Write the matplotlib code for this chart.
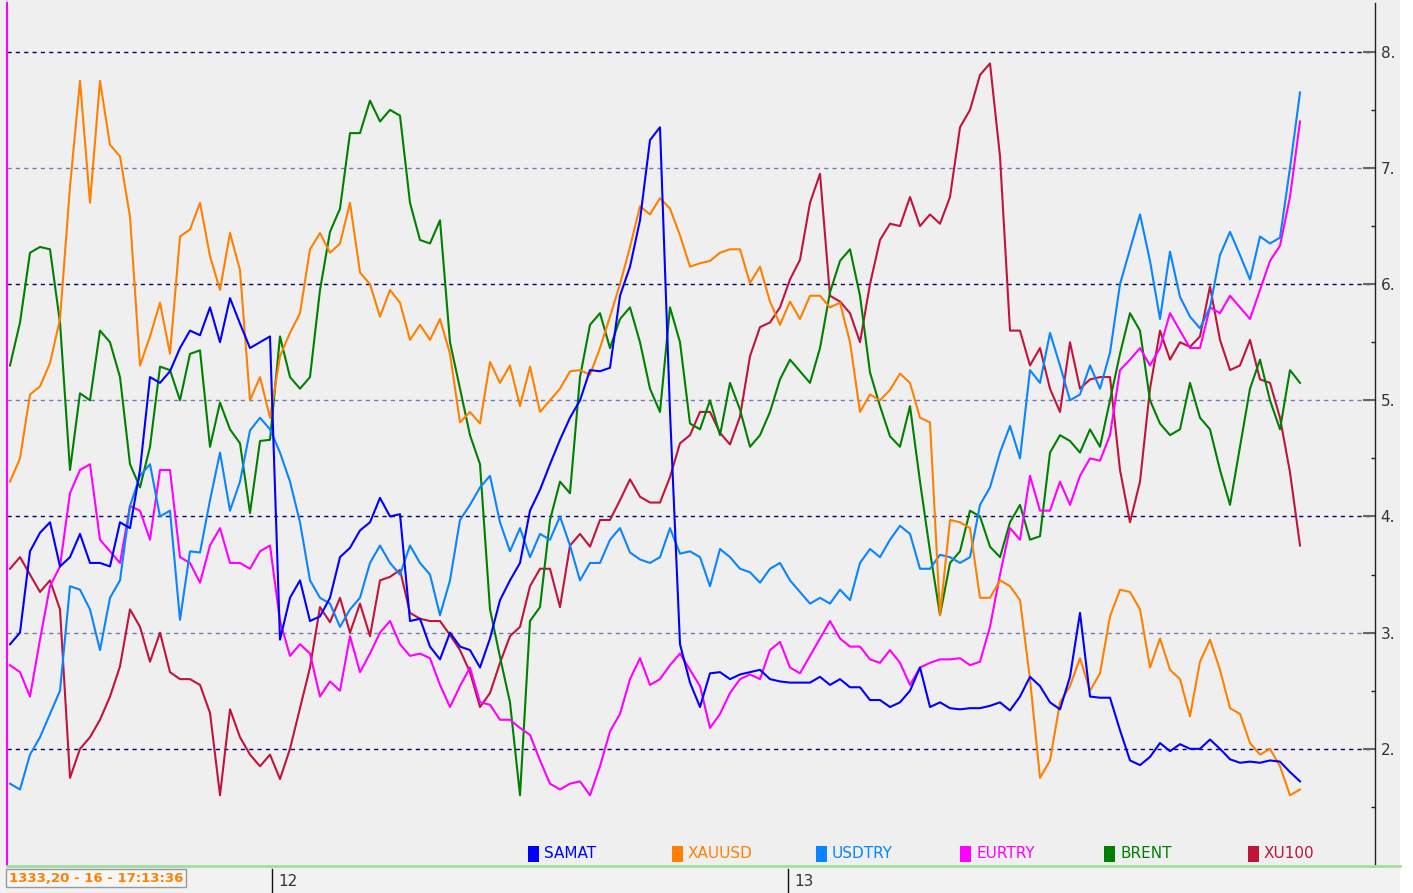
import numpy as np
import matplotlib
matplotlib.use('Agg')
import matplotlib.pyplot as plt
from matplotlib.patches import Rectangle
from matplotlib.transforms import blended_transform_factory

# %%
# series values, one sample per bar step
samat = [2.9, 3.0, 3.7, 3.86, 3.95, 3.57, 3.65, 3.85, 3.6, 3.6,
         3.57, 3.95, 3.9, 4.4, 5.2, 5.15, 5.25, 5.45, 5.6, 5.56,
         5.8, 5.5, 5.88, 5.66, 5.45, 5.5, 5.55, 2.94, 3.3, 3.45,
         3.1, 3.14, 3.3, 3.65, 3.73, 3.88, 3.95, 4.16, 4.0, 4.02,
         3.1, 3.12, 2.88, 2.77, 3.0, 2.88, 2.85, 2.7, 2.95, 3.28,
         3.45, 3.6, 4.05, 4.23, 4.45, 4.66, 4.85, 5.0, 5.26, 5.25,
         5.28, 5.9, 6.15, 6.55, 7.24, 7.35, 4.9, 2.9, 2.57, 2.36,
         2.65, 2.66, 2.6, 2.64, 2.66, 2.68, 2.6, 2.58, 2.57, 2.57,
         2.57, 2.62, 2.55, 2.6, 2.53, 2.53, 2.42, 2.42, 2.36, 2.4,
         2.5, 2.7, 2.36, 2.4, 2.35, 2.34, 2.35, 2.35, 2.37, 2.4,
         2.33, 2.45, 2.62, 2.54, 2.4, 2.34, 2.62, 3.17, 2.45, 2.44,
         2.44, 2.16, 1.9, 1.86, 1.93, 2.05, 1.98, 2.04, 2.0, 2.0,
         2.08, 2.0, 1.91, 1.88, 1.89, 1.88, 1.9, 1.89, 1.8, 1.72]

xauusd = [4.3, 4.5, 5.05, 5.12, 5.32, 5.7, 6.84, 7.75, 6.7, 7.75,
          7.2, 7.1, 6.58, 5.3, 5.55, 5.84, 5.4, 6.41, 6.47, 6.7,
          6.24, 5.95, 6.44, 6.12, 5.0, 5.2, 4.85, 5.38, 5.58, 5.75,
          6.3, 6.44, 6.27, 6.35, 6.7, 6.1, 6.0, 5.72, 5.95, 5.84,
          5.52, 5.65, 5.52, 5.7, 5.4, 4.81, 4.9, 4.8, 5.33, 5.15,
          5.3, 4.95, 5.29, 4.9, 5.0, 5.1, 5.25, 5.26, 5.22, 5.45,
          5.72, 6.0, 6.32, 6.67, 6.6, 6.74, 6.65, 6.42, 6.15, 6.18,
          6.2, 6.27, 6.3, 6.3, 6.01, 6.15, 5.85, 5.65, 5.85, 5.7,
          5.9, 5.9, 5.8, 5.84, 5.5, 4.9, 5.05, 5.0, 5.09, 5.23,
          5.15, 4.85, 4.81, 3.15, 3.97, 3.95, 3.9, 3.3, 3.3, 3.45,
          3.4, 3.28, 2.6, 1.75, 1.9, 2.4, 2.54, 2.78, 2.5, 2.65,
          3.14, 3.37, 3.35, 3.2, 2.7, 2.95, 2.68, 2.6, 2.28, 2.75,
          2.94, 2.68, 2.35, 2.3, 2.05, 1.95, 2.0, 1.85, 1.6, 1.65]

usdtry = [1.7, 1.65, 1.95, 2.1, 2.3, 2.5, 3.4, 3.37, 3.2, 2.85,
          3.3, 3.45, 4.09, 4.35, 4.45, 4.0, 4.05, 3.11, 3.7, 3.69,
          4.14, 4.55, 4.05, 4.3, 4.74, 4.85, 4.75, 4.55, 4.3, 3.95,
          3.45, 3.3, 3.25, 3.05, 3.2, 3.3, 3.6, 3.75, 3.6, 3.5,
          3.75, 3.6, 3.5, 3.15, 3.45, 3.97, 4.1, 4.25, 4.35, 3.95,
          3.7, 3.9, 3.65, 3.85, 3.8, 4.0, 3.75, 3.45, 3.6, 3.6,
          3.8, 3.9, 3.69, 3.63, 3.6, 3.65, 3.9, 3.68, 3.7, 3.65,
          3.4, 3.72, 3.65, 3.55, 3.52, 3.43, 3.55, 3.6, 3.45, 3.35,
          3.25, 3.3, 3.25, 3.37, 3.28, 3.6, 3.72, 3.65, 3.8, 3.92,
          3.85, 3.55, 3.55, 3.67, 3.65, 3.6, 3.65, 4.1, 4.25, 4.55,
          4.78, 4.5, 5.26, 5.15, 5.58, 5.3, 5.0, 5.05, 5.3, 5.1,
          5.41, 6.0, 6.3, 6.6, 6.2, 5.7, 6.28, 5.89, 5.72, 5.62,
          5.8, 6.25, 6.45, 6.25, 6.04, 6.41, 6.35, 6.4, 7.0, 7.65]

eurtry = [2.72, 2.66, 2.45, 2.94, 3.4, 3.57, 4.2, 4.4, 4.45, 3.8,
          3.7, 3.6, 4.09, 4.05, 3.8, 4.4, 4.4, 3.65, 3.6, 3.43,
          3.75, 3.9, 3.6, 3.6, 3.55, 3.7, 3.75, 3.1, 2.8, 2.9,
          2.82, 2.45, 2.58, 2.5, 2.97, 2.66, 2.82, 3.0, 3.1, 2.9,
          2.8, 2.82, 2.78, 2.55, 2.36, 2.54, 2.7, 2.4, 2.38, 2.25,
          2.25, 2.18, 2.12, 1.9, 1.7, 1.65, 1.7, 1.72, 1.6, 1.85,
          2.15, 2.3, 2.6, 2.78, 2.55, 2.6, 2.72, 2.82, 2.68, 2.54,
          2.18, 2.3, 2.48, 2.6, 2.64, 2.6, 2.85, 2.92, 2.7, 2.65,
          2.8, 2.95, 3.1, 2.95, 2.88, 2.88, 2.77, 2.74, 2.85, 2.74,
          2.55, 2.7, 2.74, 2.77, 2.77, 2.78, 2.72, 2.75, 3.05, 3.5,
          3.9, 3.8, 4.35, 4.05, 4.05, 4.3, 4.1, 4.35, 4.5, 4.48,
          4.7, 5.26, 5.35, 5.45, 5.3, 5.45, 5.75, 5.6, 5.45, 5.45,
          5.8, 5.75, 5.9, 5.8, 5.7, 5.95, 6.2, 6.33, 6.75, 7.4]

brent = [5.3, 5.67, 6.27, 6.32, 6.3, 5.67, 4.4, 5.06, 5.0, 5.6,
         5.5, 5.2, 4.45, 4.25, 4.6, 5.29, 5.26, 5.0, 5.4, 5.43,
         4.6, 4.98, 4.75, 4.63, 4.03, 4.65, 4.66, 5.55, 5.2, 5.1,
         5.2, 5.95, 6.45, 6.65, 7.3, 7.3, 7.58, 7.4, 7.5, 7.45,
         6.7, 6.38, 6.35, 6.55, 5.5, 5.1, 4.7, 4.45, 3.2, 2.79,
         2.4, 1.6, 3.1, 3.22, 3.97, 4.3, 4.2, 5.2, 5.65, 5.75,
         5.45, 5.7, 5.8, 5.5, 5.1, 4.9, 5.8, 5.5, 4.8, 4.75,
         5.0, 4.7, 5.15, 4.92, 4.6, 4.7, 4.9, 5.18, 5.35, 5.25,
         5.15, 5.45, 5.93, 6.2, 6.3, 5.9, 5.24, 4.95, 4.69, 4.6,
         4.95, 4.3, 3.7, 3.15, 3.6, 3.7, 4.05, 4.0, 3.74, 3.65,
         3.95, 4.1, 3.8, 3.83, 4.55, 4.7, 4.65, 4.55, 4.75, 4.6,
         5.0, 5.4, 5.75, 5.6, 5.0, 4.8, 4.7, 4.75, 5.15, 4.85,
         4.75, 4.4, 4.1, 4.6, 5.1, 5.35, 5.0, 4.75, 5.26, 5.15]

xu100 = [3.55, 3.65, 3.5, 3.35, 3.45, 3.2, 1.75, 2.0, 2.1, 2.25,
         2.45, 2.71, 3.2, 3.05, 2.75, 3.0, 2.66, 2.6, 2.6, 2.55,
         2.31, 1.6, 2.34, 2.1, 1.95, 1.85, 1.95, 1.74, 2.0, 2.35,
         2.7, 3.22, 3.09, 3.3, 3.0, 3.25, 2.97, 3.45, 3.48, 3.54,
         3.17, 3.12, 3.1, 3.1, 2.98, 2.85, 2.66, 2.36, 2.48, 2.74,
         2.97, 3.05, 3.4, 3.55, 3.55, 3.22, 3.75, 3.85, 3.74, 3.97,
         3.97, 4.14, 4.32, 4.17, 4.12, 4.12, 4.34, 4.63, 4.7, 4.9,
         4.9, 4.72, 4.62, 4.86, 5.38, 5.63, 5.67, 5.8, 6.04, 6.21,
         6.7, 6.95, 5.9, 5.85, 5.75, 5.5, 6.0, 6.38, 6.52, 6.5,
         6.75, 6.5, 6.6, 6.52, 6.75, 7.35, 7.5, 7.8, 7.9, 7.1,
         5.6, 5.6, 5.3, 5.45, 5.1, 4.9, 5.5, 5.1, 5.18, 5.2,
         5.2, 4.4, 3.95, 4.3, 5.1, 5.6, 5.35, 5.5, 5.46, 5.55,
         5.98, 5.52, 5.26, 5.3, 5.52, 5.18, 5.15, 4.85, 4.38, 3.75]

names = ['SAMAT', 'XAUUSD', 'USDTRY', 'EURTRY', 'BRENT', 'XU100']
colors = ['#0000FF', '#FF8000', '#0A84FF', '#FF00FF', '#008000', '#C0143C']
series = [samat, xauusd, usdtry, eurtry, brent, xu100]

y_ticks = [2, 3, 4, 5, 6, 7, 8]
day_pos = [26.2, 77.8]
day_labels = ['12', '13']
status_text = '1333,20 - 16 - 17:13:36'

# %%
W, H = 1413, 893


def fx(px):
    return px / W


def fy(py):
    return 1 - py / H


fig = plt.figure(figsize=(W / 100, H / 100), dpi=100, facecolor='white')

# panel backgrounds (behind the axes)
fig.patches.append(Rectangle((0, fy(866)), fx(1400), fy(0) - fy(866),
                             transform=fig.transFigure, facecolor='#EFEFEF',
                             edgecolor='none', zorder=-2))
fig.patches.append(Rectangle((0, 0), fx(1400), fy(866),
                             transform=fig.transFigure, facecolor='#F2F2F2',
                             edgecolor='none', zorder=-2))

ax = fig.add_axes([fx(7), fy(865), fx(1375) - fx(7), fy(3) - fy(865)])
ax.set_facecolor('#EFEFEF')
ax.set_zorder(1)

t = np.arange(len(samat))
for name, col, vals in reversed(list(zip(names, colors, series))):
    ax.plot(t, vals, color=col, lw=1.5, zorder=3)

# dotted grid, dark and light alternating
for v in y_ticks:
    gc = '#00006E' if v % 2 == 0 else '#7878B4'
    ax.axhline(v, color=gc, lw=1, ls=(0, (3, 3)), zorder=1)

ax.set_xlim(-0.3, 136.5)
ax.set_ylim(1.0, 8.42)

ax.yaxis.tick_right()
ax.set_yticks(y_ticks)
ax.set_yticklabels([f'{v}.' for v in y_ticks])
ax.set_yticks(np.arange(1.5, 8.0, 1.0), minor=True)
ax.tick_params(axis='y', which='major', direction='in', length=9, width=1.5,
               color='#666666', labelsize=11, labelcolor='#333333', pad=4)
ax.tick_params(axis='y', which='minor', direction='in', length=3, width=1,
               color='#222222')
ax.set_xticks([])

ax.spines['top'].set_visible(False)
ax.spines['bottom'].set_visible(False)
ax.spines['left'].set_color('#FF00FF')
ax.spines['left'].set_linewidth(1.5)
ax.spines['right'].set_color('#222222')
ax.spines['right'].set_linewidth(1)

# bottom green rule
fig.add_artist(plt.Line2D([fx(7), fx(1400)], [fy(865.5), fy(865.5)],
                          transform=fig.transFigure, color='#9EE09E', lw=2,
                          zorder=5))

# legend strip
for i, (name, col) in enumerate(zip(names, colors)):
    x0 = 528 + i * 144
    fig.patches.append(Rectangle((fx(x0), fy(862)), fx(11), fy(846) - fy(862),
                                 transform=fig.transFigure, facecolor=col,
                                 edgecolor='none', zorder=5))
    fig.text(fx(x0 + 16), fy(854), name, color=col, fontsize=11,
             va='center', ha='left', zorder=5)

# day separators
trans = blended_transform_factory(ax.transData, fig.transFigure)
for pos, lab in zip(day_pos, day_labels):
    fig.add_artist(plt.Line2D([pos, pos], [fy(869), fy(893)],
                              transform=trans, color='#111111', lw=1))
    fig.text(pos + 0.6, fy(881), lab, transform=trans, fontsize=11,
             color='#333333', va='center', ha='left')

# status box
fig.text(fx(9), fy(878), status_text, color='#FF8000', fontsize=9.5,
         fontweight='bold', va='center', ha='left',
         bbox=dict(boxstyle='square,pad=0.2', facecolor='#F6F6F6',
                   edgecolor='#999999', lw=1))

fig.savefig('out.png', dpi=100, facecolor='white')
